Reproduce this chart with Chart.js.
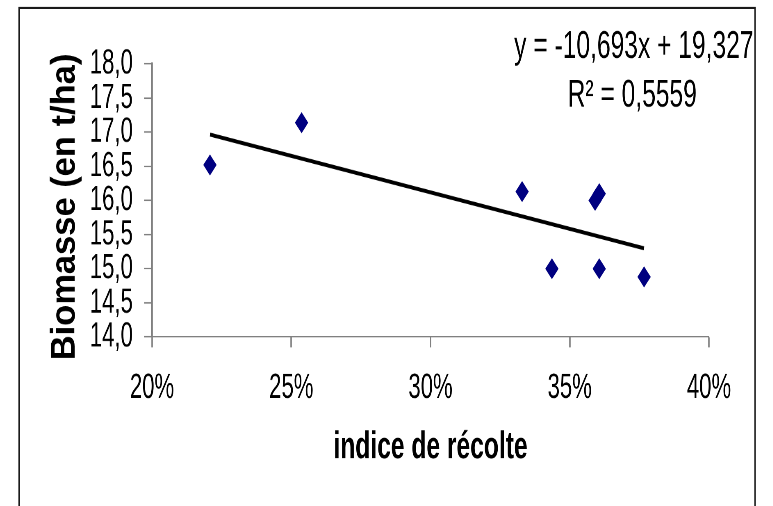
<!DOCTYPE html>
<html>
<head>
<meta charset="utf-8">
<script src="https://cdn.jsdelivr.net/npm/chart.js@4.4.0/dist/chart.umd.min.js"></script>
<style>
  html { margin: 0; padding: 0; overflow: hidden; background: #fff; }
  body { margin: 0; padding: 0; width: 773px; height: 506px; background: #fff; }
  /* the original picture is squeezed horizontally and stretched vertically:
     draw on a flat canvas and scale it the same way */
  #wrap { width: 943px; height: 389px; transform: scale(0.82, 1.3); transform-origin: 0 0; }
</style>
</head>
<body>
<div id="wrap"><canvas id="chart" width="943" height="389"></canvas></div>
<script>
// harvest index (fraction) and biomass (t/ha)
const harvestIndex = [0.2208, 0.2537, 0.3329, 0.3436, 0.3591, 0.3606, 0.3606, 0.3767];
const biomass = [16.52, 17.14, 16.13, 15.00, 16.00, 16.10, 15.00, 14.88];

// linear trend shown on the chart
const trendSlope = -10.693;
const trendIntercept = 19.327;
const trendLabel = 'y = -10,693x + 19,327';
const r2Label = 'R² = 0,5559';

const xTitle = 'indice de récolte';
const yTitle = 'Biomasse (en t/ha)';

const SX = 0.82, SY = 1.3;
const FONT = "'Liberation Sans', Arial, sans-serif";
const AXIS_GREY = '#808080';

const xMin = Math.min(...harvestIndex);
const xMax = Math.max(...harvestIndex);
const trendPoints = [xMin, xMax].map(x => ({ x: x, y: trendSlope * x + trendIntercept }));

// frame, regression text and the vertical title (kept at natural proportions)
const framePlugin = {
  id: 'frame',
  afterDraw(chart) {
    const ctx = chart.ctx;
    const area = chart.chartArea;
    ctx.save();
    ctx.strokeStyle = '#1a1a1a';
    ctx.lineWidth = 1.6;
    ctx.strokeRect(23.2, 6.2, 897.5, 400);

    ctx.fillStyle = '#000';
    ctx.textAlign = 'center';
    ctx.textBaseline = 'middle';
    ctx.font = '30px ' + FONT;
    ctx.fillText(trendLabel, 773, 36);
    ctx.fillText(r2Label, 771, 73.5);

    ctx.translate(79.5, (area.top + area.bottom) / 2 + 5);
    ctx.rotate(-Math.PI / 2);
    ctx.scale(1 / SY, 1 / SX);
    ctx.font = 'bold 34.5px ' + FONT;
    ctx.fillText(yTitle, 0, 0);
    ctx.restore();
  }
};

new Chart(document.getElementById('chart'), {
  type: 'scatter',
  data: {
    datasets: [
      {
        label: 'trend',
        data: trendPoints,
        showLine: true,
        borderColor: '#000',
        borderWidth: 3,
        pointRadius: 0,
        order: 1
      },
      {
        label: 'Biomasse',
        data: harvestIndex.map((x, i) => ({ x: x, y: biomass[i] })),
        pointStyle: 'rectRot',
        pointRadius: 7.4,
        backgroundColor: '#000080',
        borderColor: '#000080',
        borderWidth: 1,
        order: 0
      }
    ]
  },
  options: {
    responsive: false,
    animation: false,
    devicePixelRatio: 2,
    layout: { padding: { top: 49.2, right: 78.4, left: 0, bottom: 0 } },
    plugins: { legend: { display: false }, tooltip: { enabled: false } },
    scales: {
      x: {
        type: 'linear',
        min: 0.2,
        max: 0.4,
        afterFit: s => { s.height = 129.8; },
        ticks: {
          stepSize: 0.05,
          autoSkip: false,
          maxRotation: 0,
          padding: 15,
          color: '#000',
          font: { family: FONT, size: 27 },
          callback: v => Math.round(v * 100) + '%'
        },
        grid: { drawOnChartArea: false, tickLength: 8, tickColor: AXIS_GREY, tickWidth: 1.8 },
        border: { color: AXIS_GREY, width: 1 },
        title: {
          display: true,
          text: xTitle,
          color: '#000',
          font: { family: FONT, size: 30, weight: 'bold' },
          padding: { top: 0, bottom: 27 }
        }
      },
      y: {
        min: 14,
        max: 18,
        afterFit: s => { s.width = 185.4; },
        ticks: {
          stepSize: 0.5,
          autoSkip: false,
          padding: 13.6,
          color: '#000',
          font: { family: FONT, size: 27 },
          callback: v => v.toFixed(1).replace('.', ',')
        },
        grid: { drawOnChartArea: false, tickLength: 9.75, tickColor: AXIS_GREY, tickWidth: 1.1 },
        border: { color: AXIS_GREY, width: 2.4 },
        title: { display: false, text: yTitle }
      }
    }
  },
  plugins: [framePlugin]
});
</script>
</body>
</html>
